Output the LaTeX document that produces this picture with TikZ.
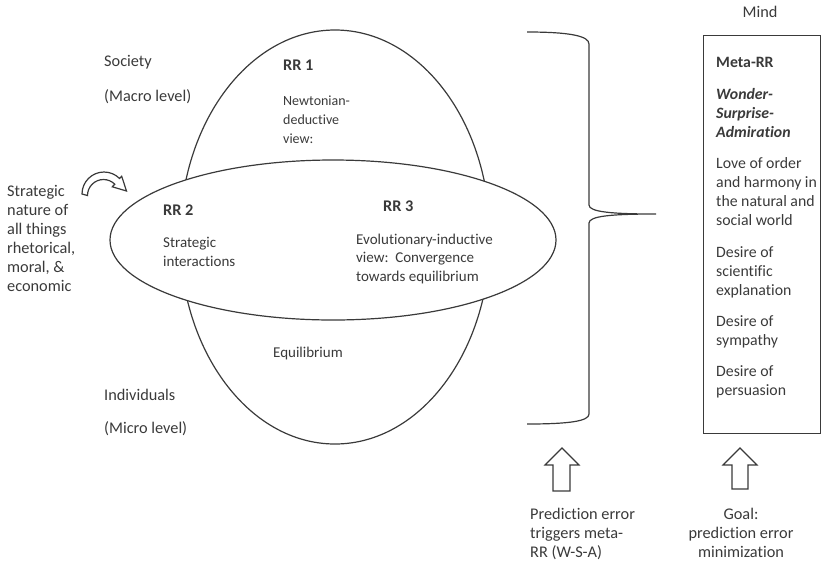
\documentclass[tikz,border=0pt]{standalone}
\usepackage{fontspec}
\setmainfont{Carlito}[Ligatures=NoCommon]
\usetikzlibrary{shapes.geometric,positioning}

\definecolor{inkgray}{HTML}{3A3A3A}

\tikzset{
  lbl/.style={anchor=base west, inner sep=0pt, align=left, text=inkgray,
    font=\fontsize{16.3}{19}\selectfont},
  inlbl/.style={lbl, font=\fontsize{15}{18.5}\selectfont},
  rrlbl/.style={lbl, font=\fontsize{16.3}{19}\selectfont\bfseries},
  region/.style={draw=inkgray, line width=1.2pt, ellipse, inner sep=0pt},
  hollow/.style={draw=inkgray, line width=1.2pt, fill=white, line join=miter},
  mindbox/.style={draw=inkgray, line width=1.2pt, inner sep=0pt, anchor=north west},
}

\begin{document}
\begin{tikzpicture}[x=1pt, y=-1pt]
  \useasboundingbox (0,0) rectangle (821,566);

  % the two overlapping regions
  \node[region, minimum width=310pt, minimum height=414pt] (society) at (335,237) {};
  \node[region, fill=white, minimum width=446pt, minimum height=160pt] (strategy) at (333,240) {};

  % levels (multi-line texts sit on the baseline of their last line)
  \node[lbl] (macro) at (104,101) {Society\\[16pt](Macro level)};
  \node[lbl] (micro) at (104,433) {Individuals\\[14pt](Micro level)};

  % reference regimes
  \node[rrlbl] (rr1) at (283,70) {RR 1};
  \node[inlbl, font=\fontsize{14}{19}\selectfont] (rr1txt) at (283,143) {Newtonian-\\deductive\\view:};
  \node[rrlbl] (rr2) at (163,215) {RR 2};
  \node[inlbl] (rr2txt) at (163,266) {Strategic\\interactions};
  \node[rrlbl] (rr3) at (383,211) {RR 3};
  \node[inlbl] (rr3txt) at (356,281) {Evolutionary-inductive\\view:\ \ Convergence\\towards equilibrium};
  \node[inlbl] (equil) at (273,357) {Equilibrium};

  % strategic nature
  \node[lbl] (nature) at (7,291) {Strategic\\nature of\\all things\\rhetorical,\\moral, \&\\economic};
  \draw[hollow] (82,194) arc[start angle=180, end angle=315, radius=22]
    -- (121.7,176.3) -- (126.5,191) -- (112.3,186.8) -- (114.8,184.2)
    arc[start angle=315, end angle=180, radius=16] -- cycle;

  % brace
  \draw[draw=inkgray, line width=1.2pt] (527,32) .. controls (570,32) and (589,36) .. (589,44)
    -- (589,205) .. controls (589,212) and (612,214) .. (656,214)
    .. controls (612,214) and (589,216) .. (589,223)
    -- (589,414) .. controls (589,421) and (570,424) .. (527,424);

  % mind
  \node[mindbox, minimum width=117pt, minimum height=398pt] (mind) at (703,35) {};
  \node[lbl, anchor=base] (mindlbl) at (760,17) {Mind};
  \node[lbl, font=\fontsize{15.8}{19}\selectfont] (metarr) at (716,395) {\textbf{Meta-RR}\\[12.5pt]
    \textbf{\textit{Wonder-}}\\\textbf{\textit{Surprise-}}\\\textbf{\textit{Admiration}}\\[12.5pt]
    Love of order\\and harmony in\\the natural and\\social world\\[12.5pt]
    Desire of\\scientific\\explanation\\[12pt]
    Desire of\\sympathy\\[12pt]
    Desire of\\persuasion};

  % triggers
  \draw[hollow] (562,448) -- (579,465) -- (570,465) -- (570,491) -- (553,491)
    -- (553,465) -- (545,465) -- cycle;
  \draw[hollow] (740,448) -- (757,465) -- (748,465) -- (748,489) -- (732,489)
    -- (732,465) -- (723,465) -- cycle;
  \node[lbl] (trigger) at (530,557) {Prediction error\\triggers meta-\\RR (W-S-A)};
  \node[lbl, align=center, anchor=base] (goal) at (741,557) {Goal:\\prediction error\\minimization};
\end{tikzpicture}
\end{document}
